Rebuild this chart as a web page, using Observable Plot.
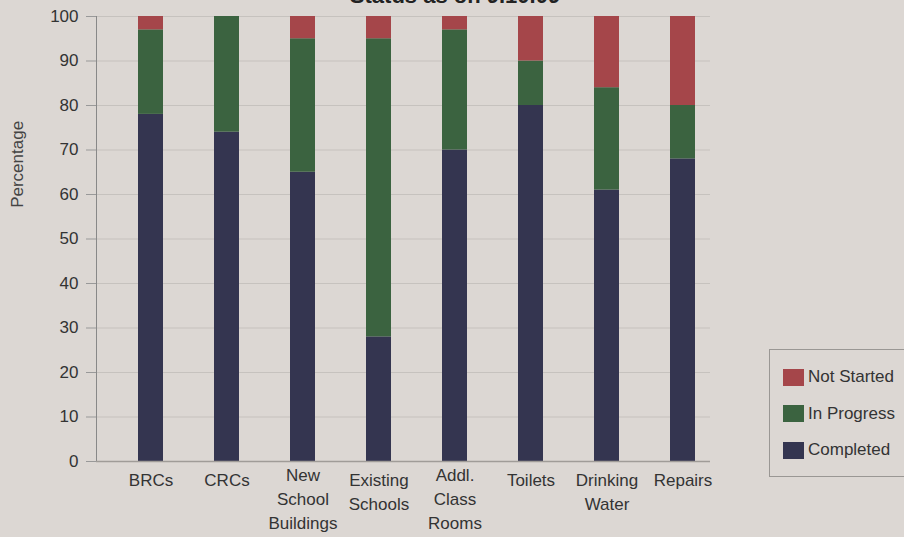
<!DOCTYPE html>
<html>
<head>
<meta charset="utf-8">
<script src="https://cdn.jsdelivr.net/npm/d3@7"></script>
<script src="https://cdn.jsdelivr.net/npm/@observablehq/plot@0.6"></script>
<style>
  html, body { margin: 0; padding: 0; background: #dcd7d3; overflow: hidden; }
  #wrap { position: relative; width: 904px; height: 537px; font-family: "Liberation Sans", Arial, sans-serif; color: #333; }
  #title { position: absolute; top: -15px; left: 0; width: 910px; text-align: center; font-weight: bold; font-size: 22px; line-height: 1; color: #222; }
  #legend { position: absolute; left: 769px; top: 349px; width: 150px; height: 128px; border: 1px solid #9a9794; box-sizing: border-box; }
  .item { position: absolute; left: 13px; font-size: 17px; display: flex; align-items: center; }
  .sw { width: 21px; height: 17px; margin-right: 4px; }
  svg { position: absolute; left: 0; top: 0; }
</style>
</head>
<body>
<div id="wrap">
  <div id="title"></div>
  <div id="legend"></div>
</div>
<script>
const categories = ["BRCs", "CRCs", "New School Buildings", "Existing Schools", "Addl. Class Rooms", "Toilets", "Drinking Water", "Repairs"];
const tickLabels = ["BRCs", "CRCs", "New\nSchool\nBuildings", "Existing\nSchools", "Addl.\nClass\nRooms", "Toilets", "Drinking\nWater", "Repairs"];
const completed  = [78, 74, 65, 28, 70, 80, 61, 68];
const inProgress = [19, 26, 30, 67, 27, 10, 23, 12];
const notStarted = [3, 0, 5, 5, 3, 10, 16, 20];
const seriesNames = ["Completed", "In Progress", "Not Started"];
const seriesColors = ["#343550", "#3b6340", "#a5464a"];
const yTicks = [0, 10, 20, 30, 40, 50, 60, 70, 80, 90, 100];
const titleText = "Status as on 9.10.09";
const yLabel = "Percentage";

const seriesValues = [completed, inProgress, notStarted];
const data = [];
seriesNames.forEach((s, si) => categories.forEach((c, ci) => data.push({category: c, status: s, value: seriesValues[si][ci]})));
const labelOf = new Map(categories.map((c, i) => [c, tickLabels[i]]));
const threeLine = categories.filter((c, i) => tickLabels[i].split("\n").length >= 3);
const otherLine = categories.filter((c, i) => tickLabels[i].split("\n").length < 3);

const xAxisOpts = {tickSize: 0, tickPadding: 8, fontSize: 17, lineHeight: 1.4, tickFormat: d => labelOf.get(d), label: null, fill: "#333", textAnchor: "middle"};

const chart = Plot.plot({
  width: 904,
  height: 537,
  marginTop: 16,
  marginBottom: 76,
  marginLeft: 96,
  marginRight: 194,
  style: {background: "transparent", fontFamily: "Liberation Sans, Arial, sans-serif", fontSize: "17px", color: "#333"},
  x: {domain: categories, range: [111, 722], paddingInner: 0.67, paddingOuter: 0.335, align: 0.5},
  y: {domain: [0, 100]},
  color: {domain: seriesNames, range: seriesColors},
  marks: [
    Plot.gridY(yTicks, {stroke: "#c6c2be", strokeOpacity: 1, strokeWidth: 1.2}),
    Plot.barY(data, {x: "category", y: "value", fill: "status", order: seriesNames}),
    Plot.axisY(yTicks, {tickSize: 10, tickPadding: 8, stroke: "#999", fill: "#333", fontSize: 17, label: null}),
    Plot.frame({anchor: "left", stroke: "#888"}),
    Plot.ruleY([0], {stroke: "#a09c98", strokeWidth: 1.5}),
    Plot.axisX(otherLine, xAxisOpts),
    Plot.axisX(threeLine, {...xAxisOpts, dy: -5}),
    Plot.text([yLabel], {frameAnchor: "left", y: () => 57, dx: -79, rotate: -90, fontSize: 17, fill: "#444"})
  ]
});
document.getElementById("wrap").appendChild(chart);
document.getElementById("title").textContent = titleText;

const legend = document.getElementById("legend");
const order = [2, 1, 0];
order.forEach((si, k) => {
  const it = document.createElement("div");
  it.className = "item";
  it.style.top = (17 + k * 36.5) + "px";
  const sw = document.createElement("div");
  sw.className = "sw";
  sw.style.background = seriesColors[si];
  it.appendChild(sw);
  const t = document.createElement("span");
  t.textContent = seriesNames[si];
  it.appendChild(t);
  legend.appendChild(it);
});
</script>
</body>
</html>
